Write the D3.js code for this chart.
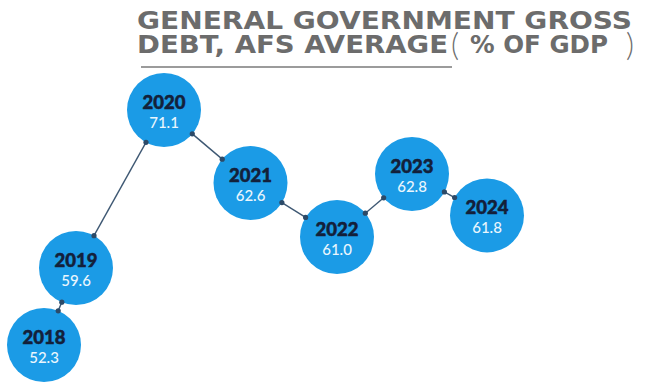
<!DOCTYPE html>
<html>
<head>
<meta charset="utf-8">
<script src="https://cdn.jsdelivr.net/npm/d3@7"></script>
<style>
  html, body { margin: 0; padding: 0; background: #ffffff; }
  svg { display: block; }
</style>
</head>
<body>
<svg id="chart" width="650" height="383"></svg>
<script>
// Debt ratio by year
const years = [2018, 2019, 2020, 2021, 2022, 2023, 2024];
const debtPct = [52.3, 59.6, 71.1, 62.6, 61.0, 62.8, 61.8];
const titleLines = ["GENERAL GOVERNMENT GROSS", "DEBT, AFS AVERAGE"];
const titleTail = ["(", "% OF GDP", ")"];

const svg = d3.select("#chart");

const data = years.map((y, i) => ({ year: y, value: debtPct[i] }));

// Horizontal placement along the timeline
const x = d3.scaleLinear()
  .domain([2018, 2019, 2020, 2022, 2024])
  .range([44, 76, 164, 337, 487]);

// Vertical placement: stretched in the busy 59–63 band
const y = d3.scaleLinear()
  .domain([52.3, 59.6, 61.0, 62.0, 62.8, 71.1])
  .range([345, 268, 237, 210, 174, 110]);

const R = 37;
const bubbleColor = "#1b9be6";
const linkColor = "#3e5873";
const heavy = "'DejaVu Sans', Lato, sans-serif";

// Title block
const title = svg.append("g")
  .attr("fill", "#6c6c6c")
  .style("font-family", heavy)
  .style("font-weight", 700)
  .attr("font-size", 24.5);

title.append("text")
  .attr("x", 137).attr("y", 28.5)
  .attr("textLength", 495).attr("lengthAdjust", "spacingAndGlyphs")
  .text(titleLines[0]);

title.append("text")
  .attr("x", 137).attr("y", 53)
  .attr("textLength", 311).attr("lengthAdjust", "spacingAndGlyphs")
  .text(titleLines[1]);

title.append("text")
  .attr("x", 451).attr("y", 56)
  .attr("font-size", 31).style("font-weight", 300)
  .style("font-family", "Lato, sans-serif")
  .text(titleTail[0]);

title.append("text")
  .attr("x", 470).attr("y", 53)
  .attr("textLength", 138).attr("lengthAdjust", "spacingAndGlyphs")
  .text(titleTail[1]);

title.append("text")
  .attr("x", 626).attr("y", 56)
  .attr("font-size", 31).style("font-weight", 300)
  .style("font-family", "Lato, sans-serif")
  .text(titleTail[2]);

svg.append("line")
  .attr("x1", 141).attr("x2", 452)
  .attr("y1", 67).attr("y2", 67)
  .attr("stroke", "#7a7a7a").attr("stroke-width", 1.6);

// Connectors between consecutive years, edge to edge
const links = d3.pairs(data).map(([a, b]) => {
  const ax = x(a.year), ay = y(a.value), bx = x(b.year), by = y(b.value);
  const dx = bx - ax, dy = by - ay, len = Math.hypot(dx, dy);
  const ux = dx / len, uy = dy / len;
  return { x1: ax + ux * R, y1: ay + uy * R, x2: bx - ux * R, y2: by - uy * R };
});

svg.append("g").selectAll("line").data(links).join("line")
  .attr("x1", d => d.x1).attr("y1", d => d.y1)
  .attr("x2", d => d.x2).attr("y2", d => d.y2)
  .attr("stroke", linkColor).attr("stroke-width", 1.4);

// Bubbles
const nodes = svg.append("g").selectAll("g").data(data).join("g")
  .attr("transform", d => `translate(${x(d.year)},${y(d.value)})`);

nodes.append("circle")
  .attr("r", R)
  .attr("fill", bubbleColor);

nodes.append("text")
  .attr("y", -1.5)
  .attr("text-anchor", "middle")
  .attr("fill", "#13203a")
  .attr("stroke", "#13203a").attr("stroke-width", 0.5)
  .style("font-family", "Lato, sans-serif")
  .style("font-weight", 900)
  .attr("font-size", 18.5)
  .text(d => d.year);

nodes.append("text")
  .attr("y", 17.5)
  .attr("text-anchor", "middle")
  .attr("fill", "#eaf6fd")
  .style("font-family", "Lato, sans-serif")
  .style("font-weight", 500)
  .attr("font-size", 15)
  .text(d => d3.format(".1f")(d.value));

// End dots of the connectors
const dots = links.flatMap(l => [[l.x1, l.y1], [l.x2, l.y2]]);
svg.append("g").selectAll("circle").data(dots).join("circle")
  .attr("cx", d => d[0]).attr("cy", d => d[1])
  .attr("r", 2.6).attr("fill", "#2c4a68");
</script>
</body>
</html>
